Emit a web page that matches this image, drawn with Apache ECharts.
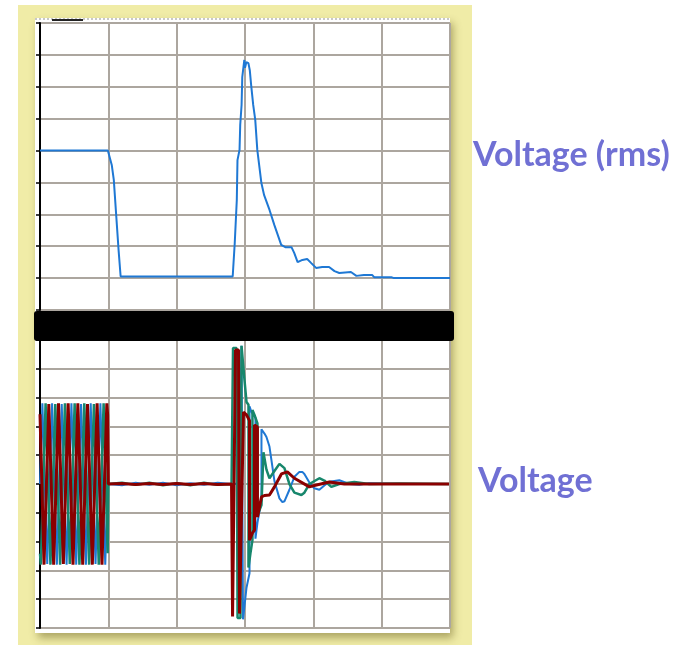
<!DOCTYPE html>
<html><head><meta charset="utf-8">
<script src="https://cdn.jsdelivr.net/npm/echarts@6/dist/echarts.min.js"></script>
<style>html,body{margin:0;padding:0;background:#fff}#c{width:694px;height:645px}</style>
</head><body><div id="c"></div>
<script>
// ---- top chart: rms voltage ----
var rmsX = [0, 0.993, 1.05, 1.08, 1.11, 1.15, 1.18, 2.82, 2.85, 2.88, 2.89, 2.92, 2.93, 2.95, 2.96, 2.99, 3.0, 3.01, 3.02, 3.05, 3.07, 3.09, 3.12, 3.15, 3.18, 3.24, 3.28, 3.36, 3.43, 3.53, 3.59, 3.68, 3.72, 3.77, 3.84, 3.91, 3.97, 4.04, 4.13, 4.23, 4.31, 4.38, 4.55, 4.63, 4.74, 4.86, 4.89, 5.14, 5.18, 6.0];
var rmsY = [5.0, 5.0, 4.55, 4.08, 3.13, 1.88, 1.05, 1.05, 2.10, 3.45, 4.70, 5.02, 5.80, 6.43, 7.30, 7.84, 7.6, 7.65, 7.77, 7.74, 7.52, 7.05, 6.43, 5.96, 5.02, 3.98, 3.6, 3.13, 2.66, 2.04, 1.97, 1.97, 1.79, 1.50, 1.57, 1.6, 1.47, 1.32, 1.35, 1.35, 1.22, 1.16, 1.19, 1.07, 1.10, 1.10, 1.03, 1.03, 1.0, 1.0];

// ---- bottom chart: phase voltages [time, value] ----
var phaseA = [[0,0],[0.035,2.8],[0.106,-2.78],[0.177,2.8],[0.247,-2.8],[0.318,2.78],[0.389,-2.8],[0.460,2.8],[0.530,-2.8],[0.601,2.78],[0.672,-2.8],[0.742,2.8],[0.813,-2.78],[0.884,2.8],[0.955,-2.8],[0.99,0],[1.0,0.05],
  [1.2,-0.04],[1.4,0.04],[1.6,-0.03],[1.8,0.04],[2.0,-0.04],[2.2,0.03],[2.4,-0.03],[2.6,0.04],[2.8,0.0],
  [2.934,0.02],[2.949,4.8],[2.964,4.8],[2.971,-4.7],[2.985,-4.7],[3.022,-3.6],[3.066,-3.1],[3.066,2.7],[3.095,2.5],[3.124,2.4],[3.153,2.3],[3.153,-1.9],[3.182,-1.35],[3.241,-0.55],[3.241,1.9],[3.285,1.75],[3.314,1.63],[3.358,1.3],[3.387,0.83],[3.431,0.1],[3.504,-0.5],[3.547,-0.63],[3.577,-0.6],[3.650,-0.2],[3.723,0.25],[3.796,0.42],[3.839,0.42],[3.869,0.35],[3.942,0.05],[4.015,-0.15],[4.088,-0.2],[4.161,-0.05],[4.234,0.08],[4.380,0.13],[4.409,0.14],[4.526,0.0],[4.672,-0.03],[4.818,0.03],[4.964,0.02],[5.255,0.0],[5.985,0.0]];
var phaseB = [[0,-2.42],[0.012,-2.8],[0.082,2.8],[0.153,-2.8],[0.224,2.78],[0.294,-2.8],[0.365,2.8],[0.436,-2.78],[0.507,2.8],[0.577,-2.8],[0.648,2.8],[0.719,-2.8],[0.789,2.78],[0.860,-2.8],[0.931,2.8],[0.99,-2.4],[1.0,0.0],
  [1.2,0.04],[1.4,-0.03],[1.6,0.04],[1.8,-0.04],[2.0,0.03],[2.2,-0.04],[2.4,0.04],[2.6,-0.03],[2.803,0.0],
  [2.825,4.72],[2.876,4.72],[2.891,-4.65],[2.934,-4.65],[2.949,4.8],[2.978,4.8],[2.993,3.6],[3.022,2.85],[3.051,2.75],[3.051,-2.9],[3.080,-2.4],[3.109,-1.95],[3.109,2.57],[3.139,2.4],[3.182,2.1],[3.182,-1.1],[3.241,-0.73],[3.270,-0.7],[3.270,1.1],[3.314,0.5],[3.358,0.2],[3.431,0.45],[3.504,0.7],[3.533,0.73],[3.577,0.55],[3.650,0.0],[3.723,-0.3],[3.825,-0.38],[3.869,-0.3],[3.942,0.0],[4.088,0.2],[4.161,0.12],[4.263,-0.1],[4.380,0.0],[4.599,0.07],[4.818,0.0],[5.255,0.02],[5.985,0.0]];
var phaseC = [[0,2.42],[0.059,-2.8],[0.129,2.78],[0.200,-2.8],[0.271,2.8],[0.342,-2.78],[0.412,2.8],[0.483,-2.8],[0.554,2.8],[0.625,-2.8],[0.695,2.78],[0.766,-2.8],[0.836,2.8],[0.907,-2.8],[0.978,2.8],[0.99,2.4],[1.0,0.0],
  [1.2,0.02],[1.4,-0.02],[1.6,0.02],[1.8,-0.02],[2.0,0.02],[2.2,-0.02],[2.4,0.02],[2.6,-0.02],[2.803,0.0],
  [2.818,-4.6],[2.847,-4.6],[2.861,4.65],[2.905,4.65],[2.920,-4.5],[2.949,-4.5],[2.978,2.5],[3.022,2.4],[3.066,2.2],[3.066,-1.95],[3.109,-1.7],[3.139,-1.6],[3.139,2.05],[3.182,1.98],[3.182,-1.15],[3.241,-0.45],[3.285,-0.4],[3.358,-0.38],[3.431,-0.1],[3.533,0.35],[3.620,0.42],[3.723,0.2],[3.942,-0.1],[4.015,-0.05],[4.234,0.07],[4.453,0.0],[4.818,0.0],[5.985,0.0]];

var gridColor = '#aca69f';
var chart = echarts.init(document.getElementById('c'), null, {renderer: 'canvas'});

function xAx(gi) {
  return {type:'value', gridIndex:gi, min:0, max:6, interval:1,
    axisLine:{show:false}, axisTick:{show:false}, axisLabel:{show:false},
    splitLine:{show:true, lineStyle:{color:gridColor, width:2}}};
}
function yAx(gi, mn, mx) {
  return {type:'value', gridIndex:gi, min:mn, max:mx, interval:1,
    axisLine:{show:true, lineStyle:{color:'#000', width:2}},
    axisTick:{show:true, inside:false, length:4, lineStyle:{color:'#000', width:1.5}},
    axisLabel:{show:false},
    splitLine:{show:true, lineStyle:{color:gridColor, width:2}}};
}

var rmsData = rmsX.map(function(x,i){return [x, rmsY[i]];});

chart.setOption({
  animation:false,
  backgroundColor:'#ffffff',
  grid:[
    {left:40, top:23, width:410, height:287, outerBoundsMode:'none'},
    {left:40, top:340, width:410, height:288, outerBoundsMode:'none'}
  ],
  xAxis:[xAx(0), xAx(1)],
  yAxis:[yAx(0,0,9), yAx(1,-5,5)],
  series:[
    {type:'line', xAxisIndex:0, yAxisIndex:0, data:rmsData, symbol:'none', lineStyle:{color:'#1f78d4', width:2}, z:5},
    {type:'line', xAxisIndex:1, yAxisIndex:1, data:phaseA, symbol:'none', lineStyle:{color:'#1f78d4', width:2}, z:5},
    {type:'line', xAxisIndex:1, yAxisIndex:1, data:phaseB, symbol:'none', lineStyle:{color:'#17876c', width:2.5}, z:6},
    {type:'line', xAxisIndex:1, yAxisIndex:1, data:phaseC, symbol:'none', lineStyle:{color:'#8a0000', width:3}, z:7}
  ],
  graphic:[
    {type:'rect', z:-20, silent:true, shape:{x:18, y:5, width:454, height:640}, style:{fill:'#f0eca7'}},
    {type:'rect', z:-10, silent:true, shape:{x:35, y:18, width:415, height:615},
      style:{fill:'#ffffff', shadowBlur:8, shadowOffsetX:3, shadowOffsetY:5, shadowColor:'rgba(90,80,20,0.45)'}},
    {type:'line', z:-5, silent:true, shape:{x1:35, y1:19, x2:450, y2:19}, style:{stroke:'#c8c8c8', lineWidth:2, lineDash:[2,2]}},
    {type:'line', z:50, silent:true, shape:{x1:52, y1:20, x2:83, y2:20}, style:{stroke:'#222', lineWidth:2}},
    {type:'rect', z:100, silent:true, shape:{x:34, y:311, width:420, height:30, r:3}, style:{fill:'#000'}},
    {type:'text', z:100, silent:true, style:{text:'Voltage (rms)', x:473, y:155, fill:'#7070d4', font:'bold 34px Lato', verticalAlign:'middle'}},
    {type:'text', z:100, silent:true, style:{text:'Voltage', x:478, y:481, fill:'#7070d4', font:'bold 34px Lato', verticalAlign:'middle'}}
  ]
});
</script></body></html>
